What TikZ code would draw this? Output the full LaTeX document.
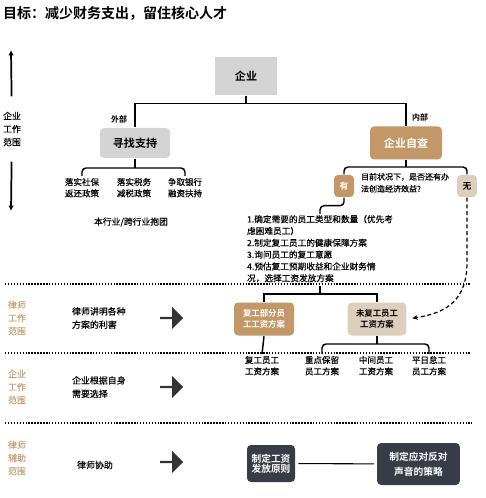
\documentclass[tikz,border=0pt]{standalone}
\usepackage{fontspec}
\setmainfont{Noto Sans CJK SC}[UprightFeatures={FakeBold=0.35}, BoldFont={Noto Sans CJK SC Bold}, BoldFeatures={FakeBold=0}]
\usetikzlibrary{positioning}
\usetikzlibrary{shapes.arrows}
\usetikzlibrary{arrows.meta}

\definecolor{boxgray}{HTML}{D4D4D4}
\definecolor{boxbrown}{HTML}{C29868}
\definecolor{boxbeige}{HTML}{DDCFBE}
\definecolor{boxdark}{HTML}{373C46}
\definecolor{sidebrown}{HTML}{C6A077}
\definecolor{arrowdark}{HTML}{333333}

\newcommand{\fs}[2]{\fontsize{#1}{#2}\selectfont}

\begin{document}
\begin{tikzpicture}[x=0.75pt, y=-0.75pt, line width=1.1pt,
    every node/.style={inner sep=1pt},
    graybox/.style={fill=boxgray, font=\bfseries\fs{8.3}{10}},
    brownbox/.style={fill=boxbrown, rounded corners=3pt, text=white, align=center, font=\bfseries\fs{6.3}{8}},
    beigebox/.style={fill=boxbeige, rounded corners=3pt, text=black, align=center, font=\bfseries\fs{6.3}{8}},
    darkbox/.style={fill=boxdark, rounded corners=3pt, text=white, align=center, font=\bfseries\fs{7.3}{7.5}},
    itemtext/.style={align=center, font=\fs{6.4}{8.5}},
    sidetext/.style={align=center, font=\fs{6.7}{9.8}},
    desctext/.style={align=left, font=\fs{6.7}{10}},
    labeltext/.style={font=\bfseries\fs{6}{7}},
    fatarrow/.style={single arrow, fill=arrowdark, inner sep=0pt, minimum width=16.5pt, minimum height=17.25pt, single arrow head extend=5.25pt},
    divider/.style={line width=0.8pt, dash pattern=on 1.1pt off 1.1pt}]

  \useasboundingbox (0,0) rectangle (485,498);

  \node[anchor=west, font=\bfseries\fs{10.5}{12}] (title) at (1,13) {目标：减少财务支出，留住核心人才};

  \coordinate (uptip) at (11,50);
  \coordinate (downtip) at (11,211);
  \node[sidetext] (scope1) at (12,129) {企业\\工作\\范围};
  \draw[-{Latex[length=4pt,width=4pt]}, line width=1.3pt, shorten <=10pt] (scope1) -- (uptip);
  \draw[-{Latex[length=4pt,width=4pt]}, line width=1.3pt, shorten <=10pt] (scope1) -- (downtip);

  \node[graybox, minimum width=46.5pt, minimum height=28.5pt] (qiye) at (246,76) {企业};
  \node[graybox, rounded corners=3pt, minimum width=52.5pt, minimum height=22.5pt] (xunzhao) at (135,143) {寻找支持};
  \node[brownbox, font=\bfseries\fs{8.3}{10}, minimum width=54pt, minimum height=24.75pt] (zicha) at (406,143) {企业自查};
  \draw (qiye.south) -- ++(0,8) -| (xunzhao.north);
  \draw (qiye.south) -- ++(0,8) -| (zicha.north);
  \node[labeltext] (waibu) at (119,119) {外部};
  \node[labeltext] (neibu) at (420,117) {内部};

  \node[itemtext, anchor=north] (s1) at (82,176) {落实社保\\返还政策};
  \node[itemtext, anchor=north] (s2) at (134,176) {落实税务\\减税政策};
  \node[itemtext, anchor=north] (s3) at (185,176) {争取银行\\融资扶持};
  \coordinate (xj) at (135,168);
  \draw (xunzhao.south) -- (xj);
  \draw[rounded corners=3pt] (s1.north) |- (xj) -| (s3.north);
  \node[font=\fs{6.6}{8}] (baotuan) at (131,222) {本行业/跨行业抱团};

  \node[brownbox, font=\bfseries\fs{6.6}{8}, minimum width=15pt, minimum height=16.5pt] (you) at (344,186) {有};
  \node[beigebox, font=\bfseries\fs{6.6}{8}, minimum width=15pt, minimum height=16.5pt] (wu) at (467,186) {无};
  \coordinate (zj) at (406,167);
  \draw (zicha.south) -- (zj);
  \draw[rounded corners=3pt] (you.north) |- (zj) -| (wu.north);
  \node[anchor=north west, align=left, font=\fs{6}{9}] (question) at (359,171) {目前状况下，是否还有办\\法创造经济效益?};

  \coordinate (lj) at (320,214);
  \draw[rounded corners=3pt] (you.south) -- ++(0,8) -| (lj);
  \node[anchor=north west, align=left, font=\fs{6.5}{8.85}] (steps) at (245,213) {1.确定需要的员工类型和数量（优先考\\虑困难员工）\\2.制定复工员工的健康保障方案\\3.询问员工的复工意愿\\4.预估复工预期收益和企业财务情\\况，选择工资发放方案};

  \draw[divider] (5,284) -- (470,284);
  \draw[divider] (5,353) -- (470,353);
  \draw[divider] (5,423) -- (472,423);

  \node[brownbox, minimum width=45pt, minimum height=24.75pt] (fugong) at (264,319) {复工部分员\\工工资方案};
  \node[beigebox, minimum width=44pt, minimum height=24.75pt] (weifugong) at (377,319) {未复工员工\\工资方案};
  \coordinate (lb) at (320,286);
  \coordinate (bj) at (320,294);
  \draw (lb) -- (bj);
  \draw (fugong.north) |- (bj) -| (weifugong.north);

  \coordinate (wbend) at (467,262);
  \draw[line width=0.9pt, dash pattern=on 3pt off 2pt, -{Stealth[length=4pt,width=3.5pt]}, shorten >=4pt] (wu.south) -- (wbend) .. controls (467,300) and (447,313) .. (weifugong.east);

  \node[itemtext, anchor=north] (f1) at (262,354) {复工员工\\工资方案};
  \node[itemtext, anchor=north] (w1) at (322,354) {重点保留\\员工方案};
  \node[itemtext, anchor=north] (w2) at (376,354) {中间员工\\工资方案};
  \node[itemtext, anchor=north] (w3) at (429,354) {平日怠工\\员工方案};
  \draw (fugong.south) -- (f1.north);
  \coordinate (wj) at (377,344);
  \draw (weifugong.south) -- (wj);
  \draw[rounded corners=3pt] (w1.north) |- (wj) -| (w3.north);

  \node[sidetext, text=sidebrown] (scope2) at (17,318) {律师\\工作\\范围};
  \node[sidetext, text=sidebrown] (scope3) at (17,387) {企业\\工作\\范围};
  \node[sidetext, text=sidebrown] (scope4) at (17,458) {律师\\辅助\\范围};

  \node[desctext, anchor=west] (desc1) at (70,318) {律师讲明各种\\方案的利害};
  \node[desctext, anchor=west] (desc2) at (70,387) {企业根据自身\\需要选择};
  \node[desctext, anchor=west] (desc3) at (75,465) {律师协助};

  \node[fatarrow] (arr1) at (171,318) {};
  \node[fatarrow] (arr2) at (171,387) {};
  \node[fatarrow] (arr3) at (171,462) {};

  \node[darkbox, minimum width=36pt, minimum height=27.75pt] (yuanze) at (271,463.5) {制定工资\\发放原则};
  \node[darkbox, font=\bfseries\fs{7.3}{11}, minimum width=62pt, minimum height=31.5pt] (celue) at (418.5,464) {制定应对反对\\声音的策略};
  \draw[line width=0.8pt, shorten <=2pt, shorten >=2pt] (yuanze) -- (celue);
\end{tikzpicture}
\end{document}
